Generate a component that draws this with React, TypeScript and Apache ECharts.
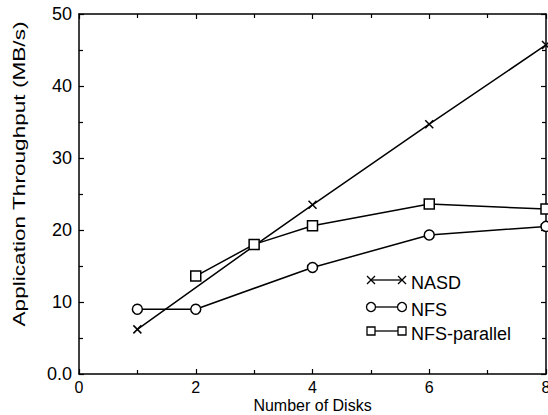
import React, { useEffect, useRef } from "react";
import * as echarts from "echarts";

const nasdDisks = [1, 3, 4, 6, 8];
const nasdValues = [6.2, 17.8, 23.5, 34.7, 45.7];
const nfsDisks = [1, 2, 4, 6, 8];
const nfsValues = [9.0, 9.0, 14.8, 19.3, 20.5];
const nfsParDisks = [2, 3, 4, 6, 8];
const nfsParValues = [13.6, 18.0, 20.6, 23.6, 22.9];
const legendNames = ["NASD", "NFS", "NFS-parallel"];

const FONT = "Liberation Sans, Arial, Helvetica, sans-serif";
const crossPath = "path://M0,0L10,10M10,0L0,10";

export default function App() {
  const ref = useRef<HTMLDivElement>(null);
  useEffect(() => {
    if (!ref.current) return;
    const chart = echarts.init(ref.current, undefined, { renderer: "svg" });
    const pair = (xs: number[], ys: number[]) => xs.map((x, i) => [x, ys[i]]);
    const axisLine = { show: true, onZero: false, lineStyle: { color: "#000", width: 1.5 } };
    const lx1 = 371, lx2 = 402, rows = [280, 307, 331];
    const legendGraphics: any[] = [];
    rows.forEach((y, i) => {
      legendGraphics.push({ type: "line", shape: { x1: lx1, y1: y, x2: lx2, y2: y }, style: { stroke: "#000", lineWidth: 1.3 } });
      [lx1, lx2].forEach((cx) => {
        if (i === 0) {
          legendGraphics.push({ type: "line", shape: { x1: cx - 4, y1: y - 4, x2: cx + 4, y2: y + 4 }, style: { stroke: "#000", lineWidth: 1.3 } });
          legendGraphics.push({ type: "line", shape: { x1: cx - 4, y1: y + 4, x2: cx + 4, y2: y - 4 }, style: { stroke: "#000", lineWidth: 1.3 } });
        } else if (i === 1) {
          legendGraphics.push({ type: "circle", shape: { cx, cy: y, r: 4.5 }, style: { fill: "#fff", stroke: "#000", lineWidth: 1.3 } });
        } else {
          legendGraphics.push({ type: "rect", shape: { x: cx - 4, y: y - 4, width: 8, height: 8 }, style: { fill: "#fff", stroke: "#000", lineWidth: 1.3 } });
        }
      });
      legendGraphics.push({
        type: "text", x: 411, y: y + 3,
        style: { text: legendNames[i], font: `18px ${FONT}`, fill: "#000", align: "left", verticalAlign: "middle" },
      });
    });
    chart.setOption({
      animation: false,
      backgroundColor: "#fff",
      grid: { left: 79, right: 2, top: 14, bottom: 41, containLabel: false, outerBoundsMode: "none" },
      xAxis: [
        {
          type: "value", min: 0, max: 8, interval: 2, position: "bottom",
          axisLine,
          axisTick: { show: true, inside: true, length: 5, lineStyle: { color: "#000", width: 1.2 } },
          minorTick: { show: true, splitNumber: 2, length: 4, lineStyle: { color: "#000", width: 1.2 } },
          splitLine: { show: false },
          axisLabel: { color: "#000", fontSize: 16, fontFamily: FONT, margin: 5, showMaxLabel: true },
          name: "Number of Disks", nameLocation: "middle", nameGap: 23, nameMoveOverlap: false,
          nameTextStyle: { color: "#000", fontSize: 16, fontFamily: FONT },
        },
        {
          type: "value", min: 0, max: 8, interval: 2, position: "top",
          axisLine,
          axisTick: { show: true, inside: true, length: 5, lineStyle: { color: "#000", width: 1.2 } },
          minorTick: { show: true, splitNumber: 2, length: 4, lineStyle: { color: "#000", width: 1.2 } },
          splitLine: { show: false },
          axisLabel: { show: false },
        },
      ],
      yAxis: [
        {
          type: "value", min: 0, max: 50, interval: 10, position: "left",
          axisLine,
          axisTick: { show: true, inside: true, length: 5, lineStyle: { color: "#000", width: 1.2 } },
          minorTick: { show: true, splitNumber: 2, length: 4, lineStyle: { color: "#000", width: 1.2 } },
          splitLine: { show: false },
          axisLabel: {
            color: "#000", fontSize: 18, fontFamily: FONT, margin: 7,
            formatter: (v: number) => (v === 0 ? "0.0" : String(v)),
          },
        },
        {
          type: "value", min: 0, max: 50, interval: 10, position: "right",
          axisLine,
          axisTick: { show: true, inside: true, length: 5, lineStyle: { color: "#000", width: 1.2 } },
          minorTick: { show: true, splitNumber: 2, length: 4, lineStyle: { color: "#000", width: 1.2 } },
          splitLine: { show: false },
          axisLabel: { show: false },
        },
      ],
      series: [
        {
          name: "NASD", type: "line", data: pair(nasdDisks, nasdValues), clip: false,
          symbol: crossPath, symbolSize: 8,
          lineStyle: { color: "#000", width: 1.5 },
          itemStyle: { color: "none", borderColor: "#000", borderWidth: 1.5 },
        },
        {
          name: "NFS", type: "line", data: pair(nfsDisks, nfsValues), clip: false,
          symbol: "circle", symbolSize: 10,
          lineStyle: { color: "#000", width: 1.5 },
          itemStyle: { color: "#fff", borderColor: "#000", borderWidth: 1.5 },
        },
        {
          name: "NFS-parallel", type: "line", data: pair(nfsParDisks, nfsParValues), clip: false,
          symbol: "rect", symbolSize: 10,
          lineStyle: { color: "#000", width: 1.5 },
          itemStyle: { color: "#fff", borderColor: "#000", borderWidth: 1.5 },
        },
      ],
      graphic: [
        {
          type: "text", x: 19, y: 174, rotation: Math.PI / 2, scaleX: 1.33,
          style: {
            text: "Application Throughput (MB/s)", font: `17px ${FONT}`, fill: "#000",
            align: "center", verticalAlign: "middle",
          },
        },
        ...legendGraphics,
      ],
    });
    return () => chart.dispose();
  }, []);
  return (
    <div
      ref={ref}
      style={{ position: "fixed", left: 0, top: 0, width: 548, height: 415, background: "#fff" }}
    />
  );
}
